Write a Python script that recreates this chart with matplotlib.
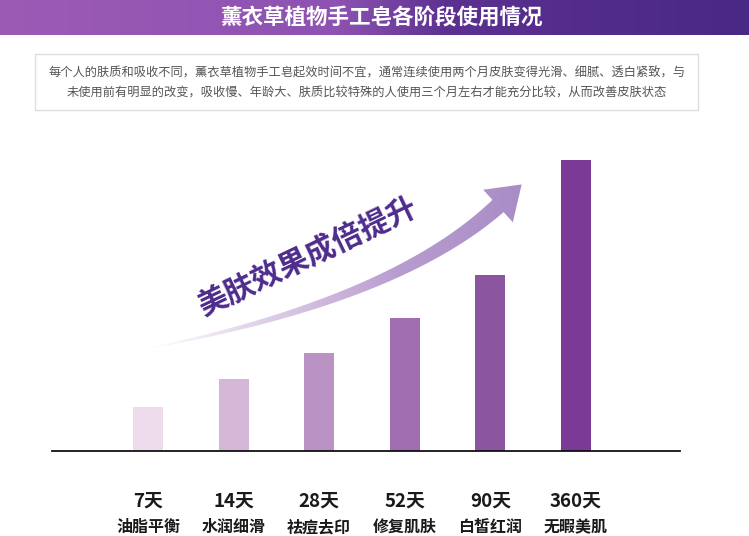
import numpy as np
import matplotlib
matplotlib.use("Agg")
import matplotlib.pyplot as plt
from matplotlib.colors import LinearSegmentedColormap
from matplotlib.patches import Polygon, Rectangle

plt.rcParams['font.family'] = ['Noto Sans CJK SC', 'DejaVu Sans']

# ---- data ----
days = ["7天", "14天", "28天", "52天", "90天", "360天"]
effects = ["油脂平衡", "水润细滑", "祛痘去印", "修复肌肤", "白皙红润", "无暇美肌"]
values = [44, 72, 98, 133, 176, 291]
bar_colors = ["#eedcec", "#d5b7d8", "#bb92c4", "#a06db0", "#8c559f", "#7a3a96"]

title = "薰衣草植物手工皂各阶段使用情况"
note_lines = ["每个人的肤质和吸收不同，薰衣草植物手工皂起效时间不宜，通常连续使用两个月皮肤变得光滑、细腻、透白紧致，与",
              "未使用前有明显的改变，吸收慢、年龄大、肤质比较特殊的人使用三个月左右才能充分比较，从而改善皮肤状态"]
slogan = "美肤效果成倍提升"

W, H = 749, 536
fig = plt.figure(figsize=(W / 100, H / 100), dpi=100)
fig.patch.set_facecolor("white")

# background overlay in pixel coords
bg = fig.add_axes([0, 0, 1, 1])
bg.set_xlim(0, W)
bg.set_ylim(H, 0)
bg.axis("off")

# title bar gradient
cmap_t = LinearSegmentedColormap.from_list("t", [(0, "#9c5bb5"), (0.45, "#8d52b2"),
                                                  (0.6, "#5b3091"), (1, "#4a2885")])
grad = np.linspace(0, 1, 256).reshape(1, -1)
bg.imshow(grad, cmap=cmap_t, extent=[0, W, 35, 0], aspect="auto", zorder=1)
bg.text(381, 18, title, color="white", fontsize=15.5, fontweight="bold",
        ha="center", va="center", zorder=3)

# note box
bg.add_patch(Rectangle((35, 54), 663, 56, facecolor="white", edgecolor="#dddddd",
                       linewidth=1, zorder=2))
bg.text(367, 73, note_lines[0], fontsize=8.8, color="#555555", ha="center", va="center", zorder=3)
bg.text(367, 93, note_lines[1], fontsize=8.8, color="#555555", ha="center", va="center", zorder=3)

# curved arrow
P0 = np.array([150.0, 348.0]); P1 = np.array([395.0, 300.0]); P2 = np.array([498.0, 206.0])
t = np.linspace(0, 1, 120)
pts = ((1 - t) ** 2)[:, None] * P0 + (2 * (1 - t) * t)[:, None] * P1 + (t ** 2)[:, None] * P2
der = (2 * (1 - t))[:, None] * (P1 - P0) + (2 * t)[:, None] * (P2 - P1)
der /= np.linalg.norm(der, axis=1)[:, None]
nrm = np.stack([-der[:, 1], der[:, 0]], axis=1)
hw = 0.3 + 8.0 * t ** 0.9
upper = pts + nrm * hw[:, None]
lower = pts - nrm * hw[:, None]
d = der[-1]; n = nrm[-1]
tip = P2 + d * 32
c1 = P2 + n * 22
c2 = P2 - n * 22
poly = np.vstack([upper, c1, tip, c2, lower[::-1]])
patch = Polygon(poly, closed=True, facecolor="none", edgecolor="none", zorder=2)
bg.add_patch(patch)
cmap_a = LinearSegmentedColormap.from_list("a", ["#ffffff", "#dccbe6", "#b89ccf", "#a88dc6"])
img = bg.imshow(np.linspace(0, 1, 256).reshape(1, -1), cmap=cmap_a,
                extent=[148, 525, 350, 178], aspect="auto", zorder=2)
img.set_clip_path(patch)

bg.text(308, 257, slogan, fontsize=21.5, fontweight="bold", color="#4d2c8c",
        rotation=25.5, ha="center", va="center", rotation_mode="anchor", zorder=3)

# bar chart axes
sp = 85.6
left_px, right_px = 52, 680
base_px, top_px = 451, 150
x0 = -(148 - left_px) / sp
x1 = (right_px - 148) / sp
ax = fig.add_axes([left_px / W, (H - base_px) / H, (right_px - left_px) / W, (base_px - top_px) / H])
ax.set_facecolor("none")
x = np.arange(len(values))
ax.bar(x, values, width=0.35, color=bar_colors, zorder=2)
ax.set_xlim(x0, x1)
ax.set_ylim(0, base_px - top_px)
for s in ["top", "right", "left"]:
    ax.spines[s].set_visible(False)
ax.spines["bottom"].set_color("#111111")
ax.spines["bottom"].set_linewidth(1.3)
ax.set_yticks([])
ax.set_xticks(x)
ax.set_xticklabels(["" for _ in days])
ax.tick_params(axis="x", length=0)
for i in x:
    ax.text(i, -50, days[i], fontsize=13.5, fontweight="bold", color="#1a1a1a",
            ha="center", va="center", clip_on=False)
    ax.text(i, -76, effects[i], fontsize=11.5, fontweight="bold", color="#1a1a1a",
            ha="center", va="center", clip_on=False)

fig.savefig("out.png", dpi=100, facecolor="white")
